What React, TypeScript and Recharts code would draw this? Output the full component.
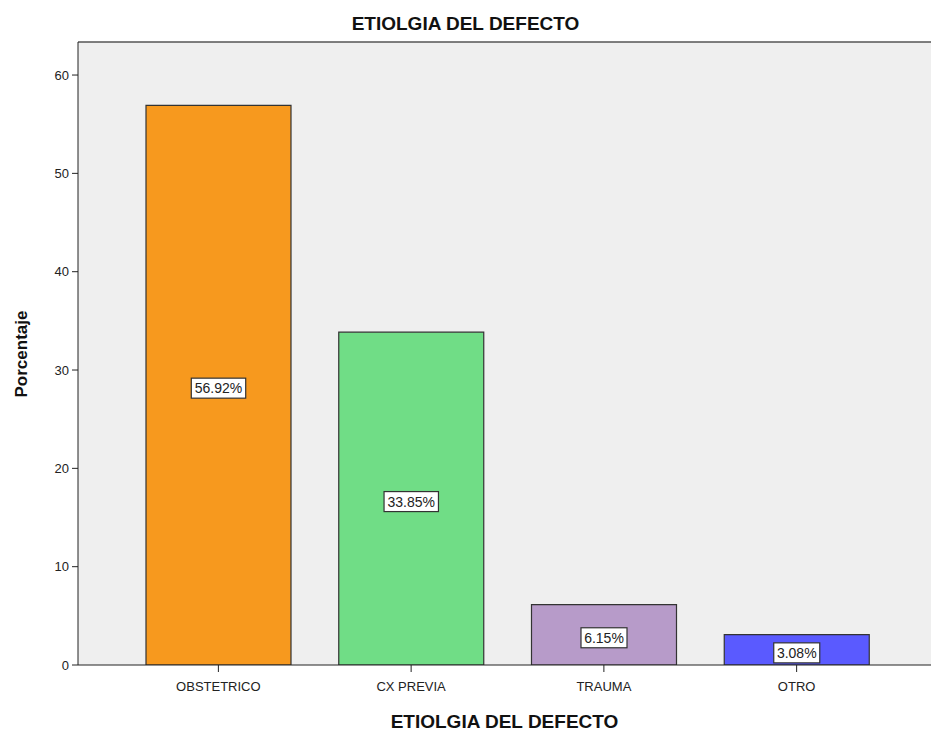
import { BarChart, Bar, XAxis, YAxis, CartesianGrid, ReferenceLine, LabelList, Cell } from "recharts";

const categories = ["OBSTETRICO", "CX PREVIA", "TRAUMA", "OTRO"];
const percentages = [56.92, 33.85, 6.15, 3.08];
const barColors = ["#f7991e", "#70dd86", "#b79bc9", "#5a5aff"];
const yTicks = [0, 10, 20, 30, 40, 50, 60];

const data = categories.map((name, i) => ({ name, value: percentages[i] }));

const FONT = "'Liberation Sans', Arial, sans-serif";
const Y_MAX = 63.36;

// boxed percentage label in the middle of each bar
const BoxLabel = (props: any) => {
  const { x, y, width, height, value } = props;
  const cx = x + width / 2;
  const cy = y + height / 2 + 3;
  const text = `${Number(value).toFixed(2)}%`;
  const w = text.length * 8.4 + 4;
  return (
    <g>
      <rect x={cx - w / 2} y={cy - 10} width={w} height={20} fill="#fff" stroke="#333" strokeWidth={1.2} />
      <text x={cx} y={cy + 5} textAnchor="middle" fontSize={14} fontFamily={FONT} fill="#222">{text}</text>
    </g>
  );
};

export default function App() {
  return (
    <div style={{ position: "absolute", left: 0, top: 0, width: 931, height: 731, background: "#fff", fontFamily: FONT }}>
      <div style={{ position: "absolute", left: 0, top: 13, width: 931, textAlign: "center", fontSize: 19, fontWeight: "bold", color: "#111" }}>
        ETIOLGIA DEL DEFECTO
      </div>
      <BarChart width={931} height={731} data={data} margin={{ top: 42, right: 0, left: 0, bottom: 36 }} barSize={145}>
        <CartesianGrid fill="#efefef" horizontal={false} vertical={false} />
        <ReferenceLine y={Y_MAX} stroke="#555" strokeWidth={1.5} />
        <XAxis dataKey="name" height={30} tick={{ fontSize: 13, fill: "#222", fontFamily: FONT }} tickLine={{ stroke: "#222" }}
          axisLine={{ stroke: "#222" }} tickSize={7} tickMargin={10} padding={{ left: 44, right: 38 }} interval={0} />
        <YAxis type="number" domain={[0, Y_MAX]} ticks={yTicks} width={78} tick={{ fontSize: 13, fill: "#222", fontFamily: FONT }}
          tickLine={{ stroke: "#222" }} axisLine={{ stroke: "#222" }} tickSize={6} tickMargin={3} allowDataOverflow />
        <Bar dataKey="value" stroke="#333" strokeWidth={1.2} isAnimationActive={false}>
          {data.map((_, i) => (
            <Cell key={i} fill={barColors[i]} />
          ))}
          <LabelList dataKey="value" content={<BoxLabel />} />
        </Bar>
      </BarChart>
      <div style={{ position: "absolute", left: 78, top: 711, width: 853, textAlign: "center", fontSize: 19, fontWeight: "bold", color: "#111" }}>
        ETIOLGIA DEL DEFECTO
      </div>
      <div style={{ position: "absolute", left: 22, top: 354, transform: "translate(-50%, -50%) rotate(-90deg)", fontSize: 17, fontWeight: "bold", color: "#111", whiteSpace: "nowrap" }}>
        Porcentaje
      </div>
    </div>
  );
}
